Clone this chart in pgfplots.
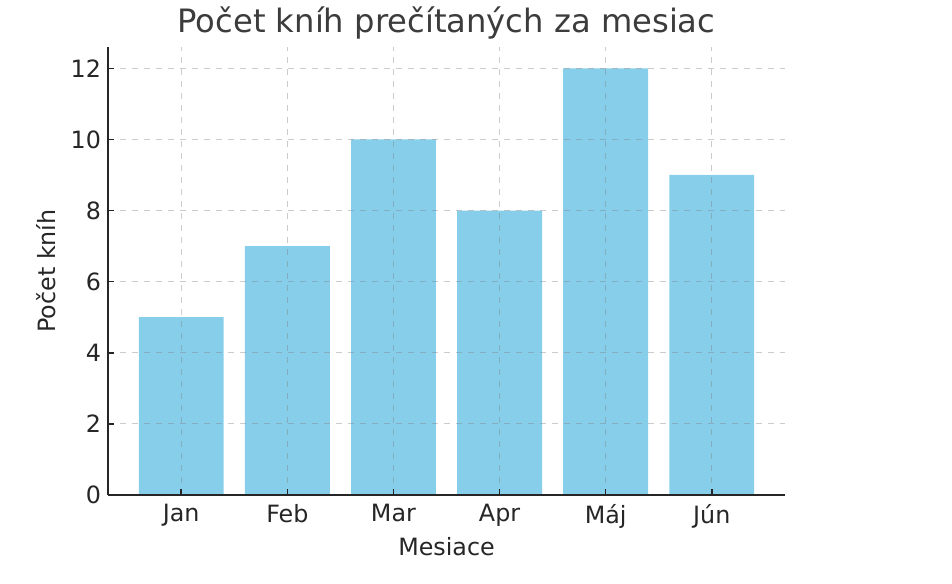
\documentclass[border=0pt]{standalone}
\usepackage{pgfplots}
\pgfplotsset{compat=1.18}
\usepackage{fontspec}
\setmainfont{DejaVu Sans}
\definecolor{skyblue}{HTML}{87CEEB}
\definecolor{txt}{HTML}{262626}
\begin{document}
\begin{tikzpicture}
\path[use as bounding box] (0,0) rectangle (476pt,291.5pt);
\begin{axis}[
  at={(54pt,44pt)}, anchor=south west,
  scale only axis,
  width=338.5pt, height=224pt,
  xmin=-0.69, xmax=5.69,
  ymin=0, ymax=12.6,
  xtick={0,1,2,3,4,5},
  xticklabels={Jan,Feb,Mar,Apr,Máj,Jún},
  ytick={0,2,4,6,8,10,12},
  axis lines*=left,
  axis line style={line width=0.8pt, color=txt, -},
  tick style={line width=0.8pt, color=txt},
  tick align=inside,
  major tick length=3pt,
  grid=major,
  major grid style={dashed, line width=0.5pt, color=gray, opacity=0.4},
  axis on top,
  tick label style={font=\fontsize{11.9}{14}\selectfont, text=txt},
  /pgf/number format/assume math mode=true,
  xlabel={Mesiace},
  ylabel={Počet kníh},
  label style={font=\fontsize{11.9}{14}\selectfont, text=txt},
  xlabel style={yshift=2pt},
  ylabel style={yshift=0.5pt},
  title={Počet kníh prečítaných za mesiac},
  title style={font=\fontsize{16.1}{19}\selectfont, text=txt!90!white, yshift=-5.5pt},
  xticklabel style={yshift=-1pt},
]
\addplot[ybar, bar width=0.8, fill=skyblue, draw=none, bar shift=0pt]
  coordinates {(0,5) (1,7) (2,10) (3,8) (4,12) (5,9)};
\end{axis}
\end{tikzpicture}
\end{document}
